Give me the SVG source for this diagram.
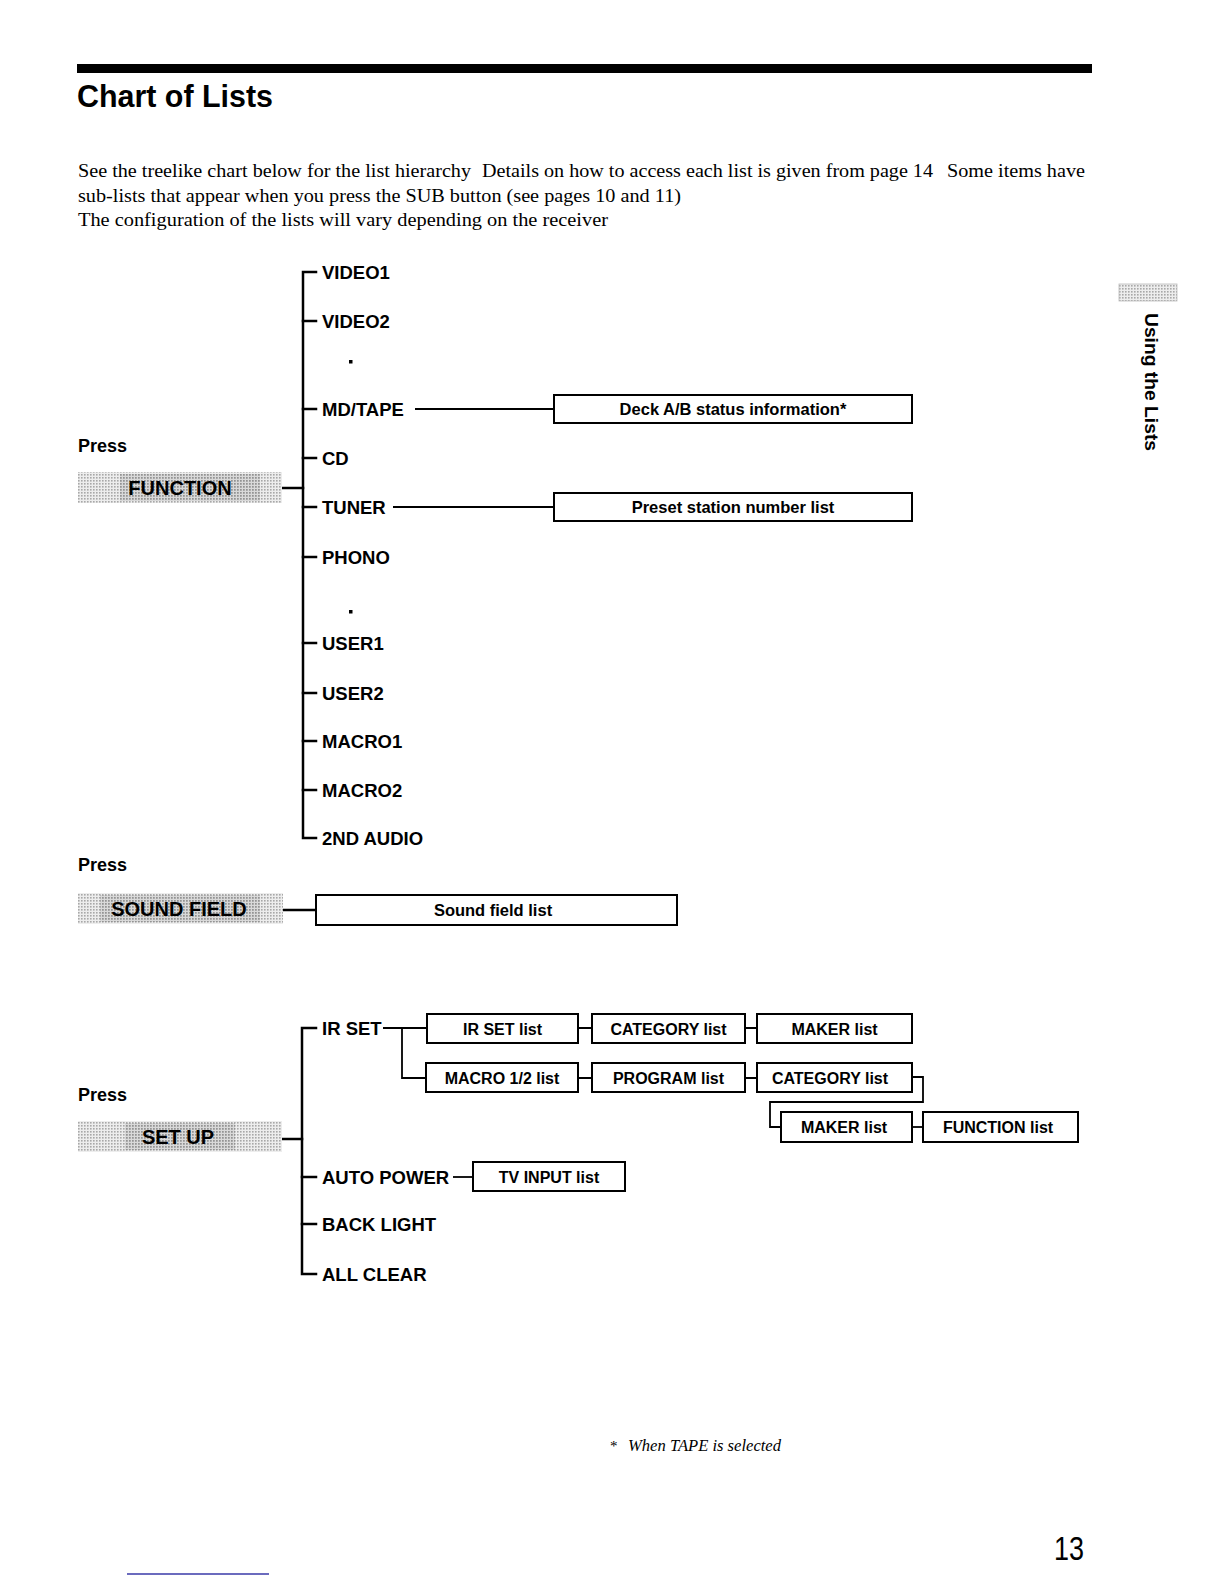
<svg xmlns="http://www.w3.org/2000/svg" width="1224" height="1584" viewBox="0 0 1224 1584">
<defs>
<pattern id="ht" width="3" height="3" patternUnits="userSpaceOnUse"><rect width="3" height="3" fill="#ededed"/><rect width="1.6" height="1.6" fill="#a8a8a8"/></pattern>
<pattern id="htd" width="3" height="3" patternUnits="userSpaceOnUse"><rect width="3" height="3" fill="#d0d0d0"/><rect width="1.8" height="1.8" fill="#8a8a8a"/></pattern>
<style>
.sans{font-family:"Liberation Sans",Arial,sans-serif;fill:#000}
.lbl{font-family:"Liberation Sans",Arial,sans-serif;font-weight:bold;font-size:18.5px;fill:#000}
.bt{font-family:"Liberation Sans",Arial,sans-serif;font-weight:bold;font-size:16.5px;fill:#000;text-anchor:middle}
.bt2{font-family:"Liberation Sans",Arial,sans-serif;font-weight:bold;font-size:16px;fill:#000;text-anchor:middle}
.btn{font-family:"Liberation Sans",Arial,sans-serif;font-weight:bold;font-size:20px;fill:#000;text-anchor:middle}
.press{font-family:"Liberation Sans",Arial,sans-serif;font-weight:bold;font-size:18px;fill:#000}
.body{font-family:"Liberation Serif","Times New Roman",serif;font-size:19px;fill:#000}
.ln{stroke:#000;stroke-width:2.5;fill:none;stroke-linecap:square}
.cn{stroke:#000;stroke-width:1.8;fill:none}
.box{fill:#fff;stroke:#000;stroke-width:2}
</style>
</defs>
<rect width="1224" height="1584" fill="#fff"/>

<g id="header">
<rect x="77" y="64" width="1015" height="9" fill="#000"/>
<text class="sans" x="77" y="107" font-size="31" font-weight="bold" textLength="196" lengthAdjust="spacingAndGlyphs">Chart of Lists</text>
<text class="body" x="78" y="177" textLength="393" lengthAdjust="spacingAndGlyphs">See the treelike chart below for the list hierarchy</text>
<text class="body" x="482" y="177" textLength="451" lengthAdjust="spacingAndGlyphs">Details on how to access each list is given from page 14</text>
<text class="body" x="947" y="177" textLength="138" lengthAdjust="spacingAndGlyphs">Some items have</text>
<text class="body" x="78" y="202" textLength="603" lengthAdjust="spacingAndGlyphs">sub-lists that appear when you press the SUB button (see pages 10 and 11)</text>
<text class="body" x="78" y="226" textLength="530" lengthAdjust="spacingAndGlyphs">The configuration of the lists will vary depending on the receiver</text>
</g>

<g id="sidebar">
<rect x="1119" y="284" width="58" height="17" fill="url(#ht)" stroke="#bbb" stroke-width="0.8"/>
<text class="sans" font-weight="bold" font-size="19" transform="translate(1145,313) rotate(90)" textLength="138" lengthAdjust="spacingAndGlyphs">Using the Lists</text>
</g>

<g id="connectors">
<!-- FUNCTION tree -->
<path class="ln" d="M316,272 H303 V838 H316"/>
<path class="ln" d="M303,321 H316 M303,409 H316 M303,458 H316 M303,507 H316 M303,557 H316 M303,643 H316 M303,693 H316 M303,741 H316 M303,790 H316"/>
<path class="ln" d="M283,488 H303"/>
<path class="cn" d="M415,409 H554"/>
<path class="cn" d="M393,507 H554"/>
<!-- SOUND FIELD -->
<path class="ln" d="M283,910 H316"/>
<!-- SET UP tree -->
<path class="ln" d="M316,1028 H302 V1274 H316"/>
<path class="ln" d="M302,1177 H316 M302,1224 H316"/>
<path class="ln" d="M282,1139 H302"/>
<path class="cn" d="M383,1028 H427"/>
<path class="cn" d="M402,1028 V1078 H426"/>
<path class="cn" d="M578,1028 H592 M745,1028 H757"/>
<path class="cn" d="M578,1078 H592 M745,1078 H757"/>
<path class="cn" d="M912,1077 H923 V1102 H770 V1127 H781"/>
<path class="cn" d="M912,1127 H923"/>
<path class="cn" d="M453,1177 H473"/>
</g>

<g id="press-function">
<text class="press" x="78" y="452">Press</text>
<rect x="78" y="472" width="204" height="31" fill="url(#ht)"/>
<rect x="120" y="474" width="140" height="27" fill="url(#htd)" opacity="0.7"/>
<text class="btn" x="180" y="495">FUNCTION</text>
</g>

<g id="video1"><text class="lbl" x="322" y="278.5">VIDEO1</text></g>
<g id="video2"><text class="lbl" x="322" y="327.5">VIDEO2</text></g>
<g id="dot1"><rect x="349" y="360" width="3.5" height="3.5" fill="#000"/></g>
<g id="mdtape"><text class="lbl" x="322" y="415.5">MD/TAPE</text></g>
<g id="cd"><text class="lbl" x="322" y="464.5">CD</text></g>
<g id="tuner"><text class="lbl" x="322" y="513.5">TUNER</text></g>
<g id="phono"><text class="lbl" x="322" y="563.5">PHONO</text></g>
<g id="dot2"><rect x="349" y="610" width="3.5" height="3.5" fill="#000"/></g>
<g id="user1"><text class="lbl" x="322" y="649.5">USER1</text></g>
<g id="user2"><text class="lbl" x="322" y="699.5">USER2</text></g>
<g id="macro1"><text class="lbl" x="322" y="747.5">MACRO1</text></g>
<g id="macro2"><text class="lbl" x="322" y="796.5">MACRO2</text></g>
<g id="audio2"><text class="lbl" x="322" y="844.5">2ND AUDIO</text></g>

<g id="deck-box">
<rect class="box" x="554" y="395" width="358" height="28"/>
<text class="bt" x="733" y="415">Deck A/B status information*</text>
</g>
<g id="preset-box">
<rect class="box" x="554" y="493" width="358" height="28"/>
<text class="bt" x="733" y="513">Preset station number list</text>
</g>

<g id="press-soundfield">
<text class="press" x="78" y="871">Press</text>
<rect x="78" y="893" width="205" height="31" fill="url(#ht)"/>
<rect x="100" y="895" width="160" height="27" fill="url(#htd)" opacity="0.7"/>
<text class="btn" x="179" y="916">SOUND FIELD</text>
</g>
<g id="soundfield-box">
<rect class="box" x="316" y="895" width="361" height="30"/>
<text class="bt" x="493" y="916">Sound field list</text>
</g>

<g id="press-setup">
<text class="press" x="78" y="1101">Press</text>
<rect x="78" y="1121" width="204" height="31" fill="url(#ht)"/>
<rect x="125" y="1123" width="110" height="27" fill="url(#htd)" opacity="0.7"/>
<text class="btn" x="178" y="1144">SET UP</text>
</g>

<g id="irset"><text class="lbl" x="322" y="1034.5">IR SET</text></g>
<g id="autopower"><text class="lbl" x="322" y="1183.5">AUTO POWER</text></g>
<g id="backlight"><text class="lbl" x="322" y="1230.5">BACK LIGHT</text></g>
<g id="allclear"><text class="lbl" x="322" y="1280.5">ALL CLEAR</text></g>

<g id="irset-list"><rect class="box" x="427" y="1014" width="151" height="29"/><text class="bt2" x="502.5" y="1034.5">IR SET list</text></g>
<g id="category-list-1"><rect class="box" x="592" y="1014" width="153" height="29"/><text class="bt2" x="668.5" y="1034.5">CATEGORY list</text></g>
<g id="maker-list-1"><rect class="box" x="757" y="1014" width="155" height="29"/><text class="bt2" x="834.5" y="1034.5">MAKER list</text></g>
<g id="macro12-list"><rect class="box" x="426" y="1063" width="152" height="29"/><text class="bt2" x="502" y="1083.5">MACRO 1/2 list</text></g>
<g id="program-list"><rect class="box" x="592" y="1063" width="153" height="29"/><text class="bt2" x="668.5" y="1083.5">PROGRAM list</text></g>
<g id="category-list-2"><rect class="box" x="757" y="1063" width="155" height="29"/><text class="bt2" x="830" y="1083.5">CATEGORY list</text></g>
<g id="maker-list-2"><rect class="box" x="781" y="1112" width="131" height="30"/><text class="bt2" x="844" y="1133">MAKER list</text></g>
<g id="function-list"><rect class="box" x="923" y="1112" width="155" height="30"/><text class="bt2" x="998" y="1133">FUNCTION list</text></g>
<g id="tvinput-list"><rect class="box" x="473" y="1162" width="152" height="29"/><text class="bt2" x="549" y="1182.5">TV INPUT list</text></g>

<g id="footer">
<text x="610" y="1451" font-family="'Liberation Serif','Times New Roman',serif" font-size="15">*</text>
<text x="628" y="1451" font-family="'Liberation Serif','Times New Roman',serif" font-style="italic" font-size="16.5" textLength="153" lengthAdjust="spacingAndGlyphs">When TAPE is selected</text>
<text class="sans" x="1054" y="1560" font-size="34" textLength="30" lengthAdjust="spacingAndGlyphs">13</text>
<line x1="127" y1="1574" x2="269" y2="1574" stroke="#3a3aa8" stroke-width="1.5"/>
</g>
</svg>
